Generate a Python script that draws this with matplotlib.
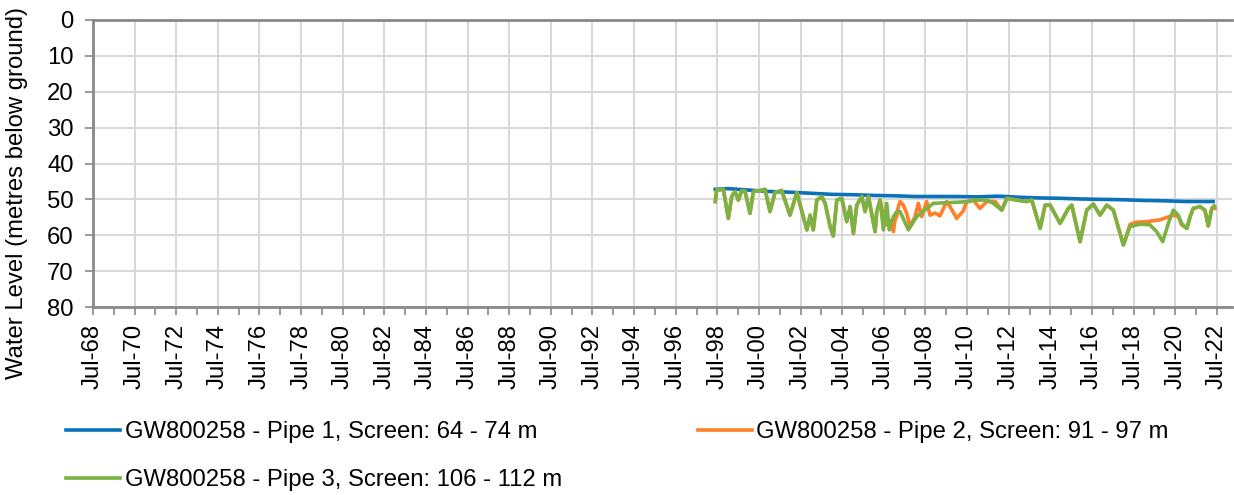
import numpy as np
import matplotlib
matplotlib.use('Agg')
import matplotlib.pyplot as plt
from matplotlib.ticker import FixedLocator

plt.rcParams['font.family'] = ['Liberation Sans', 'DejaVu Sans']

# Decimal years and water levels (metres below ground)
pipe1_year = [1998.40, 1999.0, 2000.0, 2001.0, 2002.0, 2003.0, 2004.0, 2005.0,
              2006.0, 2007.0, 2008.0, 2009.0, 2010.0, 2011.0, 2012.0, 2013.0,
              2014.0, 2015.0, 2016.0, 2017.0, 2018.0, 2019.0, 2020.0, 2021.0, 2022.32]
pipe1_level = [47.2, 47.0, 47.4, 47.8, 48.0, 48.3, 48.6, 48.7,
               48.9, 49.0, 49.2, 49.2, 49.2, 49.3, 49.1, 49.4,
               49.6, 49.7, 49.9, 50.0, 50.1, 50.3, 50.4, 50.6, 50.6]

pipe3_year = [1998.40, 1998.47, 1998.79, 1999.03, 1999.19, 1999.35, 1999.51, 1999.67,
              1999.83, 2000.07, 2000.23, 2000.50, 2000.79, 2001.03, 2001.27, 2001.59,
              2001.99, 2002.32, 2002.80, 2002.96, 2003.11, 2003.28, 2003.52, 2003.68,
              2003.92, 2004.07, 2004.24, 2004.48, 2004.72, 2004.88, 2005.04, 2005.20,
              2005.44, 2005.60, 2005.76, 2006.08, 2006.16, 2006.32, 2006.48, 2006.64,
              2006.76, 2006.96, 2007.12, 2007.28, 2007.68, 2008.08, 2008.88, 2009.68,
              2010.64, 2010.80, 2011.45, 2011.76, 2012.17, 2012.41, 2012.89, 2013.37,
              2013.61, 2014.01, 2014.25, 2014.49, 2014.97, 2015.37, 2015.53, 2015.93,
              2016.25, 2016.57, 2016.89, 2017.21, 2017.53, 2018.01, 2018.33, 2018.81,
              2019.29, 2019.61, 2019.90, 2020.17, 2020.41, 2020.65, 2020.81, 2021.06,
              2021.22, 2021.37, 2021.69, 2021.93, 2022.09, 2022.26, 2022.37]
pipe3_level = [50.6, 47.4, 47.2, 55.3, 49.2, 47.8, 50.2, 47.6,
               47.7, 53.9, 47.8, 47.6, 47.2, 53.4, 48.1, 47.5,
               54.4, 48.1, 58.5, 54.4, 58.5, 50.2, 49.2, 51.1,
               57.6, 60.2, 50.2, 49.7, 56.2, 52.0, 59.5, 51.6,
               49.2, 53.4, 49.2, 59.0, 53.4, 50.2, 58.5, 51.1,
               58.5, 54.8, 53.4, 53.4, 58.5, 54.8, 51.1, 50.9,
               50.6, 50.2, 50.2, 51.1, 53.0, 49.7, 50.2, 50.6,
               50.2, 58.1, 51.6, 51.6, 56.7, 52.5, 51.6, 61.8,
               53.0, 51.3, 54.4, 51.6, 53.0, 62.7, 57.6, 56.9,
               57.1, 59.0, 61.8, 56.7, 53.0, 54.4, 56.7, 58.1,
               54.8, 52.5, 52.0, 53.0, 57.4, 52.5, 51.8]

pipe2_year = [1998.40, 1998.47, 1998.79, 1999.03, 1999.19, 1999.35, 1999.51, 1999.67,
              1999.83, 2000.07, 2000.23, 2000.50, 2000.79, 2001.03, 2001.27, 2001.59,
              2001.99, 2002.32, 2002.80, 2002.96, 2003.11, 2003.28, 2003.52, 2003.68,
              2003.92, 2004.07, 2004.24, 2004.48, 2004.72, 2004.88, 2005.04, 2005.20,
              2005.44, 2005.60, 2005.76, 2006.08, 2006.16, 2006.32, 2006.48, 2006.64,
              2006.72, 2006.88, 2006.96, 2007.04, 2007.12, 2007.20, 2007.28, 2007.44,
              2007.60, 2007.76, 2008.00, 2008.16, 2008.32, 2008.56, 2008.72, 2008.96,
              2009.20, 2009.52, 2009.68, 2010.00, 2010.32, 2010.48, 2010.80, 2011.12,
              2011.45, 2011.85, 2012.17, 2012.41, 2012.89, 2013.37, 2013.61, 2014.01,
              2014.25, 2014.49, 2014.97, 2015.37, 2015.53, 2015.93, 2016.25, 2016.57,
              2016.89, 2017.21, 2017.53, 2018.01, 2018.33, 2018.60, 2019.13, 2019.77,
              2020.41, 2020.65, 2020.81, 2021.06, 2021.22, 2021.37, 2021.69, 2021.93,
              2022.09, 2022.26, 2022.41]
pipe2_level = [50.6, 47.4, 47.2, 55.3, 49.2, 47.8, 50.2, 47.6,
               47.7, 53.9, 47.8, 47.6, 47.2, 53.4, 48.1, 47.5,
               54.4, 48.1, 58.5, 54.4, 58.5, 50.2, 49.2, 51.1,
               57.6, 60.2, 50.2, 49.7, 56.2, 52.0, 59.5, 51.6,
               49.2, 53.4, 49.2, 59.0, 53.4, 50.2, 54.6, 57.1,
               55.7, 56.3, 59.0, 55.7, 54.8, 52.0, 50.6, 51.6,
               53.9, 57.6, 54.8, 51.1, 54.8, 50.6, 54.4, 53.8,
               54.6, 50.6, 52.0, 55.3, 53.2, 50.6, 50.2, 52.5,
               50.6, 50.6, 53.0, 49.7, 50.2, 50.6, 50.2, 58.1,
               51.6, 51.6, 56.7, 52.5, 51.6, 61.8, 53.0, 51.3,
               54.4, 51.6, 53.0, 62.7, 57.0, 56.4, 56.2, 55.7,
               54.4, 54.8, 57.1, 58.1, 54.8, 52.5, 52.0, 53.0,
               57.4, 52.5, 52.5]

labels = ['GW800258 - Pipe 1, Screen: 64 - 74 m',
          'GW800258 - Pipe 2, Screen: 91 - 97 m',
          'GW800258 - Pipe 3, Screen: 106 - 112 m']
colors = ['#0A72BA', '#FF7F2A', '#7AB342']

major_years = np.arange(1968.5, 2023, 2)
tick_labels = [f'Jul-{int(y) % 100:02d}' for y in major_years]

fig = plt.figure(figsize=(12.34, 4.95), dpi=100)
ax = fig.add_axes([93 / 1234, 1 - 307 / 495, (1232 - 93) / 1234, (307 - 20) / 495])

lw = 2.6
l1, = ax.plot(pipe1_year, pipe1_level, color=colors[0], lw=lw, label=labels[0],
              zorder=3, solid_joinstyle='round')
l2, = ax.plot(pipe2_year, pipe2_level, color=colors[1], lw=lw, label=labels[1],
              zorder=3, solid_joinstyle='round')
l3, = ax.plot(pipe3_year, pipe3_level, color=colors[2], lw=lw, label=labels[2],
              zorder=4, solid_joinstyle='round')

ax.set_xlim(1968.5, 2023.23)
ax.set_ylim(80, 0)
ax.set_yticks(np.arange(0, 81, 10))
ax.xaxis.set_major_locator(FixedLocator(major_years))
ax.xaxis.set_minor_locator(FixedLocator(np.arange(1969.5, 2023, 2)))
ax.set_xticklabels(tick_labels, rotation=90)

fs = 17.2
ax.tick_params(axis='both', which='both', direction='out', color='#898989', width=1.2, labelsize=fs)
ax.tick_params(axis='y', length=6, pad=8)
ax.tick_params(axis='x', which='major', length=6, pad=6)
ax.tick_params(axis='x', which='minor', length=6)
ax.grid(True, which='major', color='#D9D9D9', lw=1.5)
ax.set_axisbelow(True)

for side in ['left', 'bottom', 'top']:
    ax.spines[side].set_color('#898989')
    ax.spines[side].set_linewidth(2)
ax.spines['right'].set_visible(False)

fig.text(0.014, 1 - 193 / 495, 'Water Level (metres below ground)', rotation=90,
         ha='center', va='center', fontsize=fs)

# legend fills by column, so order handles to read row-wise
fig.legend([l1, l3, l2], [labels[0], labels[2], labels[1]],
           loc='upper left', bbox_to_anchor=(66 / 1234, 1 - 421 / 495), ncol=2,
           frameon=False, fontsize=fs, handlelength=2.25, handletextpad=0.2,
           columnspacing=5.7, labelspacing=1.1, borderpad=0, borderaxespad=0)

fig.savefig('out.png', dpi=100)
